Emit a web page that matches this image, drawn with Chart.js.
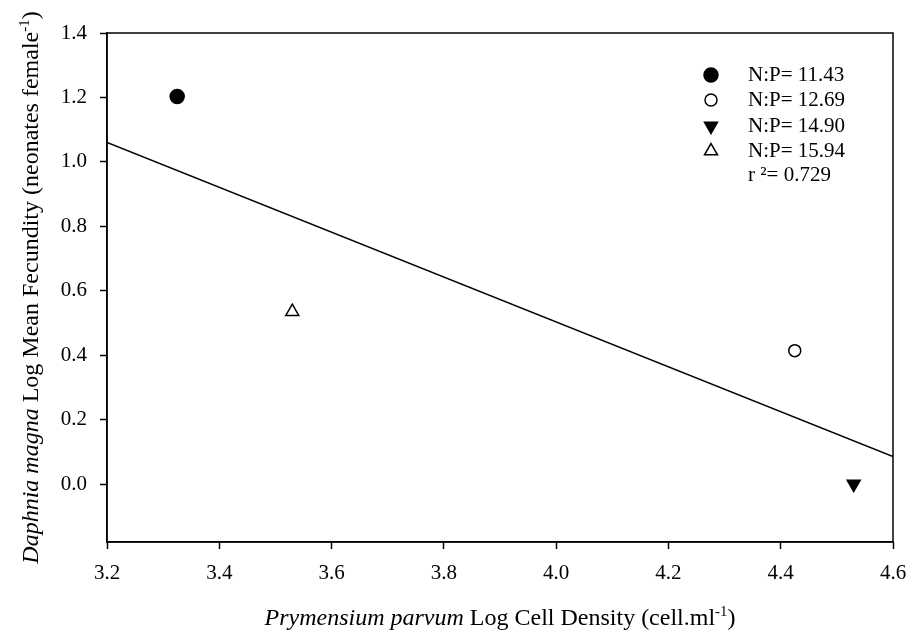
<!DOCTYPE html>
<html>
<head>
<meta charset="utf-8">
<script src="https://cdn.jsdelivr.net/npm/chart.js@4/dist/chart.umd.min.js"></script>
<style>
  body { margin: 0; background: #fff; }
  #wrap { width: 911px; height: 634px; }
</style>
</head>
<body>
<div id="wrap"><canvas id="fecundityChart" width="911" height="634"></canvas></div>
<script>
// data
const groupLabels = ['N:P= 11.43', 'N:P= 12.69', 'N:P= 14.90', 'N:P= 15.94'];
const cellDensity = [3.325, 4.425, 4.53, 3.53];
const meanFecundity = [1.203, 0.414, 0.0, 0.535];
const fitX = [3.2, 4.6];
const fitY = [1.06, 0.085];
const rSquared = 'r ²= 0.729';
const xTicks = [3.2, 3.4, 3.6, 3.8, 4.0, 4.2, 4.4, 4.6];
const yTicks = [0.0, 0.2, 0.4, 0.6, 0.8, 1.0, 1.2, 1.4];

const SERIF = '"Liberation Serif", "Times New Roman", serif';
const markers = [
  { pointStyle: 'circle', radius: 7, fill: '#000', rotation: 0 },
  { pointStyle: 'circle', radius: 6, fill: '#fff', rotation: 0 },
  { pointStyle: 'triangle', radius: 7.5, fill: '#000', rotation: 180 },
  { pointStyle: 'triangle', radius: 7.5, fill: '#fff', rotation: 0 }
];

const pointSets = groupLabels.map((lab, i) => ({
  type: 'scatter',
  label: lab,
  data: [{ x: cellDensity[i], y: meanFecundity[i] }],
  pointStyle: markers[i].pointStyle,
  rotation: markers[i].rotation,
  pointRadius: markers[i].radius,
  pointHoverRadius: markers[i].radius,
  backgroundColor: markers[i].fill,
  borderColor: '#000',
  borderWidth: 1.5
}));

// draw mixed italic / upright text with a superscript piece, centred on 0
function drawRich(ctx, parts, size) {
  let total = 0;
  parts.forEach(p => {
    ctx.font = (p.italic ? 'italic ' : '') + (p.sup ? size * 0.62 : size) + 'px ' + SERIF;
    p.w = ctx.measureText(p.text).width;
    total += p.w;
  });
  let x = -total / 2;
  parts.forEach(p => {
    ctx.font = (p.italic ? 'italic ' : '') + (p.sup ? size * 0.62 : size) + 'px ' + SERIF;
    ctx.fillText(p.text, x, p.sup ? -size * 0.38 : 0);
    x += p.w;
  });
}

const decorations = {
  id: 'decorations',
  afterDraw(chart) {
    const { ctx, chartArea: a } = chart;
    ctx.save();
    ctx.strokeStyle = '#000';
    ctx.lineWidth = 1.5;
    ctx.strokeRect(a.left, a.top, a.right - a.left, a.bottom - a.top);

    // legend
    ctx.textBaseline = 'middle';
    ctx.textAlign = 'left';
    const rows = [75, 100, 126, 151];
    groupLabels.forEach((lab, i) => {
      const m = markers[i];
      ctx.fillStyle = m.fill;
      ctx.strokeStyle = '#000';
      ctx.lineWidth = 1.5;
      Chart.helpers.drawPoint(ctx, { pointStyle: m.pointStyle, radius: m.radius, rotation: m.rotation, borderWidth: 1.5 }, 711, rows[i]);
      ctx.fillStyle = '#000';
      ctx.font = '21px ' + SERIF;
      ctx.fillText(lab, 748, rows[i]);
    });
    ctx.fillText(rSquared, 748, 175);

    // axis titles
    ctx.textBaseline = 'alphabetic';
    ctx.save();
    ctx.translate((a.left + a.right) / 2, 625);
    drawRich(ctx, [
      { text: 'Prymensium parvum', italic: true },
      { text: ' Log Cell Density (cell.ml' },
      { text: '-1', sup: true },
      { text: ')' }
    ], 24);
    ctx.restore();

    ctx.save();
    ctx.translate(38, (a.top + a.bottom) / 2);
    ctx.rotate(-Math.PI / 2);
    drawRich(ctx, [
      { text: 'Daphnia magna', italic: true },
      { text: ' Log Mean Fecundity (neonates female' },
      { text: '-1', sup: true },
      { text: ')' }
    ], 24);
    ctx.restore();
    ctx.restore();
  }
};

new Chart(document.getElementById('fecundityChart'), {
  data: {
    datasets: [
      ...pointSets,
      {
        type: 'line',
        label: 'fit',
        data: fitX.map((x, i) => ({ x: x, y: fitY[i] })),
        borderColor: '#000',
        borderWidth: 1.5,
        pointRadius: 0,
        fill: false
      }
    ]
  },
  options: {
    responsive: false,
    animation: false,
    events: [],
    layout: { padding: { top: 33, right: 18, left: 0, bottom: 0 } },
    plugins: { legend: { display: false }, tooltip: { enabled: false } },
    scales: {
      x: {
        type: 'linear',
        min: 3.2,
        max: 4.6,
        afterBuildTicks: s => { s.ticks = xTicks.map(v => ({ value: v })); },
        afterFit: s => { s.height = 92; s.paddingLeft = 0; s.paddingRight = 0; },
        grid: { drawOnChartArea: false, tickLength: 7, tickColor: '#000', tickWidth: 1.5 },
        border: { color: '#000', width: 1.5 },
        ticks: {
          color: '#000',
          padding: 12,
          maxRotation: 0,
          font: { family: SERIF, size: 21 },
          callback: v => v.toFixed(1)
        }
      },
      y: {
        type: 'linear',
        min: -0.18,
        max: 1.4,
        afterBuildTicks: s => { s.ticks = yTicks.map(v => ({ value: v })); },
        afterFit: s => { s.width = 107; s.paddingTop = 0; s.paddingBottom = 0; },
        grid: { drawOnChartArea: false, tickLength: 7, tickColor: '#000', tickWidth: 1.5 },
        border: { color: '#000', width: 1.5 },
        ticks: {
          color: '#000',
          padding: 13,
          font: { family: SERIF, size: 21 },
          callback: v => v.toFixed(1)
        }
      }
    }
  },
  plugins: [decorations]
});
</script>
</body>
</html>
